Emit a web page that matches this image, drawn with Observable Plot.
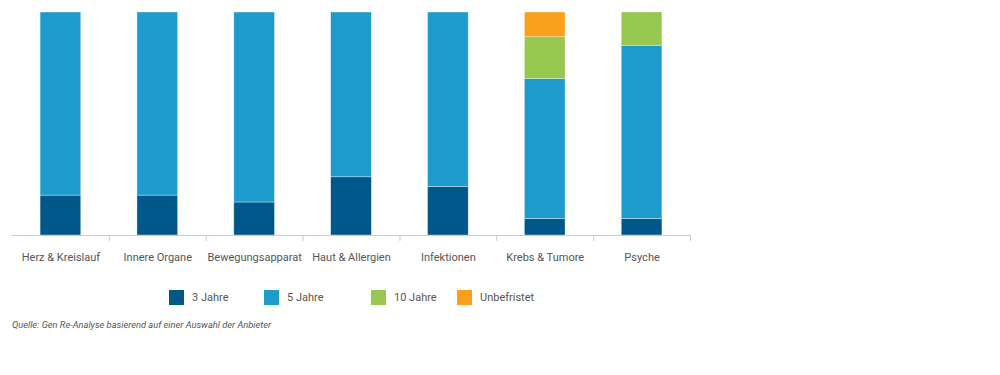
<!DOCTYPE html>
<html>
<head>
<meta charset="utf-8">
<script src="https://cdn.jsdelivr.net/npm/d3@7"></script>
<script src="https://cdn.jsdelivr.net/npm/@observablehq/plot@0.6"></script>
<style>
  body { margin: 0; background: #fff; font-family: Roboto, "Noto Sans", sans-serif; }
  #wrap { position: relative; width: 1000px; height: 375px; }
  #chart { position: absolute; left: 0; top: 0; }
  .legend { position: absolute; top: 290px; left: 0; font-size: 11px; color: #555; }
  .item { position: absolute; top: 0; white-space: nowrap; }
  .sw { position: absolute; top: 0; width: 15px; height: 15px; }
  .lab { position: absolute; top: 0; line-height: 15px; }
  .caption { position: absolute; left: 12px; top: 319px; font-size: 9.3px; font-style: italic; color: #555; }
</style>
</head>
<body>
<div id="wrap">
  <div id="chart"></div>
  <div class="legend" id="legend"></div>
  <div class="caption">Quelle: Gen Re-Analyse basierend auf einer Auswahl der Anbieter</div>
</div>
<script>
const categories = ["Herz & Kreislauf", "Innere Organe", "Bewegungsapparat", "Haut & Allergien", "Infektionen", "Krebs & Tumore", "Psyche"];
const series = ["3 Jahre", "5 Jahre", "10 Jahre", "Unbefristet"];
const colors = ["#00578a", "#1e9bcd", "#96c850", "#f9a11b"];
const jahre3 = [17.9, 17.9, 14.8, 26.1, 21.8, 7.4, 7.4];
const jahre5 = [82.1, 82.1, 85.2, 73.9, 78.2, 62.8, 77.7];
const jahre10 = [0, 0, 0, 0, 0, 18.7, 14.9];
const unbefristet = [0, 0, 0, 0, 0, 11.1, 0];

const valuesBySeries = [jahre3, jahre5, jahre10, unbefristet];
const table = [];
series.forEach((s, si) => {
  categories.forEach((c, ci) => {
    table.push({category: c, series: s, value: valuesBySeries[si][ci]});
  });
});

const chart = Plot.plot({
  width: 1000,
  height: 275,
  marginTop: 12,
  marginBottom: 40,
  marginLeft: 12,
  marginRight: 310,
  style: {fontFamily: "Roboto, 'Noto Sans', sans-serif", fontSize: "11px", color: "#555"},
  x: {domain: categories, paddingInner: 0.58, paddingOuter: 0.29, round: false, label: null},
  y: {domain: [0, 100], axis: null},
  color: {domain: series, range: colors},
  marks: [
    Plot.barY(table, Plot.stackY({
      x: "category", y: "value", fill: "series",
      stroke: "#ffffff", strokeWidth: 0.6, strokeOpacity: 0.6
    })),
    Plot.ruleY([0], {stroke: "#cccccc", strokeWidth: 1}),
    Plot.axisX({tickSize: 6, dx: 678 / 7 / 2, text: null, stroke: "#cccccc"}),
    Plot.axisX({tickSize: 0, tickPadding: 18, fill: "#555", fontSize: 11})
  ]
});
document.getElementById("chart").appendChild(chart);

const legendX = [169, 264, 371, 457];
const legend = document.getElementById("legend");
series.forEach((s, i) => {
  const item = document.createElement("div");
  item.className = "item";
  item.style.left = legendX[i] + "px";
  const sw = document.createElement("div");
  sw.className = "sw";
  sw.style.left = "0px";
  sw.style.background = colors[i];
  const lab = document.createElement("div");
  lab.className = "lab";
  lab.style.left = "23px";
  lab.textContent = s;
  item.appendChild(sw);
  item.appendChild(lab);
  legend.appendChild(item);
});
</script>
</body>
</html>
